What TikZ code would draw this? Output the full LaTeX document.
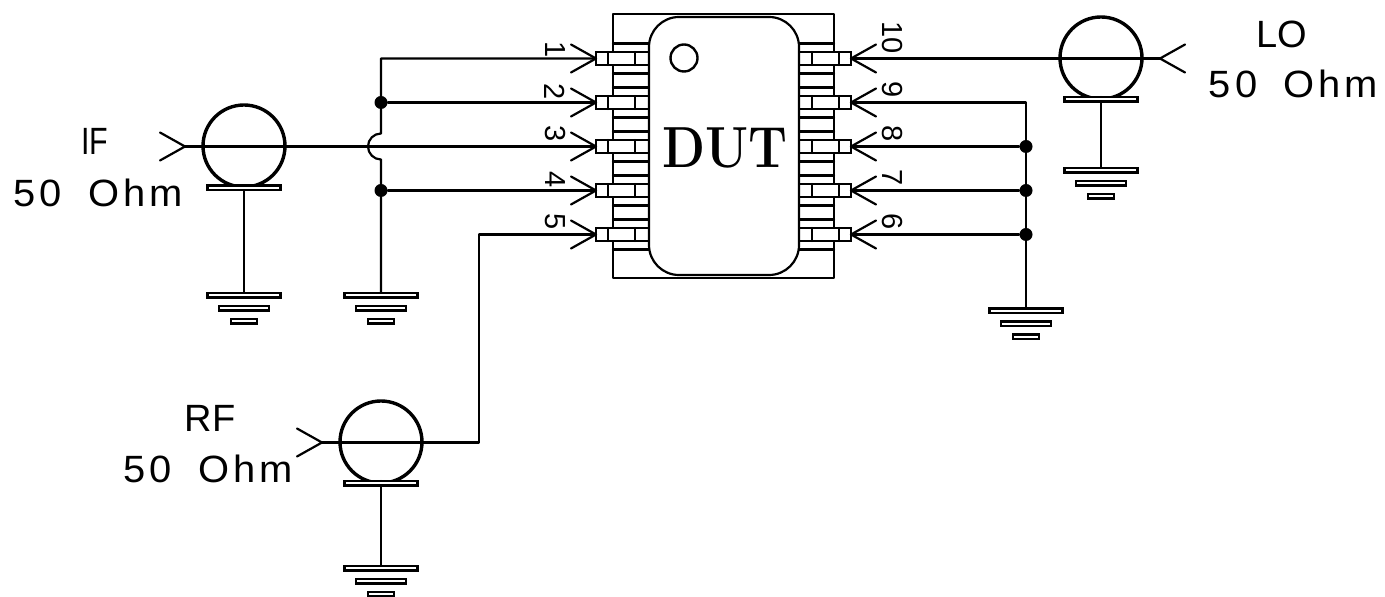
\documentclass[tikz,border=0pt]{standalone}
\usepackage{fontspec}
\newfontfamily\cadfont[LetterSpace=10]{Liberation Sans}
\newfontfamily\pinfont{Liberation Sans}
\tikzset{
  wire/.style={line width=1.1pt,line cap=round,line join=round},
  thin box/.style={draw,line width=1.1pt,fill=white},
  gen/.style={circle,draw,line width=1.7pt,minimum size=41pt,inner sep=0pt},
  junction/.style={circle,fill=black,minimum size=6.5pt,inner sep=0pt},
  lab/.style={font=\pinfont\fontsize{19}{19}\selectfont,inner sep=0pt},
  ohmlab/.style={font=\cadfont\fontsize{19}{19}\selectfont,inner sep=0pt,xscale=1.05},
  pinlab/.style={font=\pinfont\fontsize{14.5}{14.5}\selectfont,rotate=-90,inner sep=0pt},
  gnd/.pic={
    \draw[thin box] (-36.5,0) rectangle (36.5,4.5);
    \draw[thin box] (-25,13) rectangle (25,17.5);
    \draw[thin box] (-13,26) rectangle (13,30.5);
  },
  tray/.pic={
    \draw[thin box] (-36.5,0) rectangle (36.5,4.5);
  },
  chevL/.pic={\draw[wire] (-25,-14) -- (0,0) -- (-25,14);},
  chevR/.pic={\draw[wire] (25,-14) -- (0,0) -- (25,14);},
  pinL/.pic={
    \draw[wire] (613,-15) -- (649,-15) (613,15) -- (649,15);
    \draw[thin box] (596,-6.5) rectangle (649,6.5);
    \draw[wire] (608,-6.5) -- (608,6.5) (635,-6.5) -- (635,6.5);
  },
  pinR/.pic={
    \draw[wire] (799,-15) -- (834,-15) (799,15) -- (834,15);
    \draw[thin box] (799,-6.5) rectangle (851,6.5);
    \draw[wire] (812,-6.5) -- (812,6.5) (839,-6.5) -- (839,6.5);
  }
}
\begin{document}
\begin{tikzpicture}[x=0.5pt,y=-0.5pt]
\useasboundingbox (0,0) rectangle (1385,597);
% package
\draw[wire] (613,14) rectangle (834,278);
\foreach \py in {58.5,102.5,146.5,190.5,234.5}{
  \pic at (0,\py) {pinL};
  \pic at (0,\py) {pinR};
}
\draw[wire,fill=white] (649,47) arc[start angle=180,end angle=270,x radius=30,y radius=30] -- (769,17)
  arc[start angle=270,end angle=360,x radius=30,y radius=30] -- (799,245)
  arc[start angle=0,end angle=90,x radius=30,y radius=30] -- (679,275)
  arc[start angle=90,end angle=180,x radius=30,y radius=30] -- cycle;
\node[circle,draw,line width=1.2pt,minimum size=13.5pt,inner sep=0pt] (mark) at (684,58) {};
\node[inner sep=0pt,xscale=.86,font=\bfseries\fontsize{29}{29}\selectfont] (dut) at (725,148) {DUT};
% pin anchors
\coordinate (p1) at (596,58.5);\coordinate (p2) at (596,102.5);\coordinate (p3) at (596,146.5);
\coordinate (p4) at (596,190.5);\coordinate (p5) at (596,234.5);
\coordinate (p10) at (851,58.5);\coordinate (p9) at (851,102.5);\coordinate (p8) at (851,146.5);
\coordinate (p7) at (851,190.5);\coordinate (p6) at (851,234.5);
\foreach \q in {1,...,5}{\pic at (p\q) {chevL};}
\foreach \q in {6,...,10}{\pic at (p\q) {chevR};}
% generators
\coordinate (iftip) at (185,146.5);
\coordinate (rftip) at (322,442.5);
\coordinate (lotip) at (1160,58.5);
\node[gen] (ifgen) at (244,146) {};
\node[gen] (rfgen) at (381,442) {};
\node[gen] (logen) at (1101,58) {};
\pic at (iftip) {chevL};
\pic at (rftip) {chevL};
\pic at (lotip) {chevR};
% left wiring
\coordinate (g1) at (244,293);
\coordinate (g2) at (381,293);
\coordinate (g3) at (1026,308.5);
\coordinate (g4) at (1101,168);
\coordinate (g5) at (381,566);
\coordinate (t1) at (244,185.5);
\coordinate (t2) at (381,481);
\coordinate (t3) at (1101,97);
\draw[wire] (iftip) -- (p3);
\draw[wire] (rftip) -- (479,442.5) -- (479,234.5) -- (p5);
\draw[wire] (lotip) -- (p10);
\node[junction] (j2) at (381,102.5) {};
\node[junction] (j4) at (381,190.5) {};
\draw[wire] (p1) -- (381,58.5) -- (381,133.5) arc[start angle=270,end angle=90,radius=13] -- (381,159.5) -- (g2);
\draw[wire] (j2) -- (p2);
\draw[wire] (j4) -- (p4);
% right wiring
\node[junction] (j8) at (1026,146.5) {};
\node[junction] (j7) at (1026,190.5) {};
\node[junction] (j6) at (1026,234.5) {};
\draw[wire] (p9) -- (1026,102.5) -- (g3);
\draw[wire] (p8) -- (j8);
\draw[wire] (p7) -- (j7);
\draw[wire] (p6) -- (j6);
% stems
\draw[wire] (t1) -- (g1);
\draw[wire] (t2) -- (g5);
\draw[wire] (t3) -- (g4);
\pic at (t1) {tray};
\pic at (t2) {tray};
\pic at (t3) {tray};
\pic at (g1) {gnd};
\pic at (g2) {gnd};
\pic at (g3) {gnd};
\pic at (g4) {gnd};
\pic at (g5) {gnd};
% labels
\node[lab,xscale=.8] (lif) at (95,141.5) {IF};
\node[ohmlab] (lif2) at (98,193) {50\hspace{12.5pt}Ohm};
\node[lab] (llo) at (1281.5,34) {LO};
\node[ohmlab] (llo2) at (1293.5,84) {50\hspace{12.5pt}Ohm};
\node[lab] (lrf) at (210,418.5) {RF};
\node[ohmlab] (lrf2) at (208,469) {50\hspace{12.5pt}Ohm};
\node[pinlab] (n1) at (555,50) {1};
\node[pinlab] (n2) at (555,91.5) {2};
\node[pinlab] (n3) at (555,133.5) {3};
\node[pinlab] (n4) at (555,180) {4};
\node[pinlab] (n5) at (555,222) {5};
\node[pinlab] (n10) at (892,37.5) {10};
\node[pinlab] (n9) at (892,90) {9};
\node[pinlab] (n8) at (892,134) {8};
\node[pinlab] (n7) at (892,178) {7};
\node[pinlab] (n6) at (892,222) {6};
\end{tikzpicture}
\end{document}
